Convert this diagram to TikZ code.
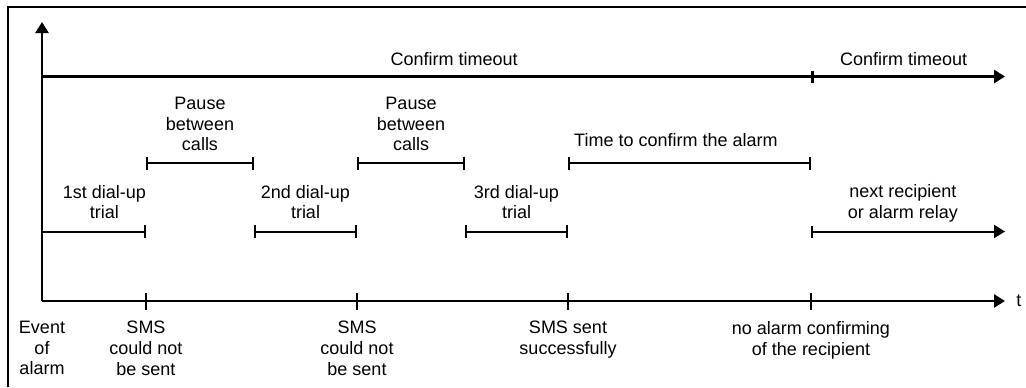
\documentclass[tikz,border=0pt]{standalone}
\usepackage{fontspec}
\setmainfont{Liberation Sans}
\usetikzlibrary{arrows.meta,positioning}

\begin{document}
\begin{tikzpicture}[x=0.5pt,y=-0.5pt,font=\fontsize{9}{10.3}\selectfont,
		axis/.style={draw,line width=1.3pt,-{Triangle[length=5.5pt,width=6.5pt]}},
		lead/.style={draw,line width=1.2pt,{Bar[width=6pt]}-{Triangle[length=5.5pt,width=6.5pt]}},
		span/.style={draw,line width=1pt,{Bar[width=6.5pt]}-{Bar[width=6.5pt]}},
		tickline/.style={draw,line width=1pt},
		lbl/.style={align=center,inner sep=0pt}]
	\useasboundingbox (0,0) rectangle (1026,387);
	\draw[line width=0.9pt] (8,387) -- (8,7) -- (1026,7);

	\coordinate (o) at (42,301);
	\coordinate (ytop) at (42,22);
	\coordinate (tend) at (1005,301);
	\coordinate (c0) at (42,76.5);
	\coordinate (c1) at (811,76.5);
	\coordinate (c2) at (1005,76.5);
	\coordinate (p0) at (146,163);
	\coordinate (p1) at (254,163);
	\coordinate (p2) at (357,163);
	\coordinate (p3) at (465,163);
	\coordinate (p4) at (568,163);
	\coordinate (p5) at (811,163);
	\coordinate (t0) at (42,231.5);
	\coordinate (t1) at (146,231.5);
	\coordinate (t2) at (254,231.5);
	\coordinate (t3) at (357,231.5);
	\coordinate (t4) at (465,231.5);
	\coordinate (t5) at (568,231.5);
	\coordinate (t6) at (811,231.5);
	\coordinate (t7) at (1005,231.5);
	\coordinate (d0) at (42,310);

	\path (o) edge[axis] (ytop)
		(o) edge[axis] (tend);
	\node[lbl,right=5.5pt of tend] (t) {t};

	\path (c0) edge[draw,line width=1.3pt] node[lbl,above=5pt,pos=0.536] (ct1) {Confirm timeout} (c1)
		(c1) edge[lead,line width=1.3pt] node[lbl,above=5pt,pos=0.477] (ct2) {Confirm timeout} (c2);

	\path (p0) edge[span] node[lbl,above=5.5pt] (pause1) {Pause\\between\\calls} (p1)
		(p2) edge[span] node[lbl,above=5.5pt] (pause2) {Pause\\between\\calls} (p3)
		(p4) edge[span] node[lbl,above=7.5pt,pos=0.444] (confirm) {Time to confirm the alarm} (p5);

	\path (t0) edge[span,-{Bar[width=6.5pt]}] node[lbl,above=5.8pt,pos=0.6] (trial1) {1st dial-up\\trial} (t1)
		(t2) edge[span] node[lbl,above=5.8pt] (trial2) {2nd dial-up\\trial} (t3)
		(t4) edge[span] node[lbl,above=5.8pt] (trial3) {3rd dial-up\\trial} (t5)
		(t6) edge[lead,line width=1pt] node[lbl,above=4.3pt,pos=0.474] (next) {next recipient\\or alarm relay} (t7);

	\foreach \x/\n in {146/1,357/2,568/3,811/4}
		\draw[tickline] (\x,293) coordinate (u\n) -- (\x,310) coordinate (d\n);

	\node[lbl,below=5.5pt of d0] (event) {Event\\of\\alarm};
	\node[lbl,below=5.5pt of d1] (sms1) {SMS\\could not\\be sent};
	\node[lbl,below=5.5pt of d2] (sms2) {SMS\\could not\\be sent};
	\node[lbl,below=5.5pt of d3] (sms3) {SMS sent\\successfully};
	\node[lbl,below=5.5pt of d4] (noconf) {no alarm confirming\\of the recipient};
\end{tikzpicture}
\end{document}
